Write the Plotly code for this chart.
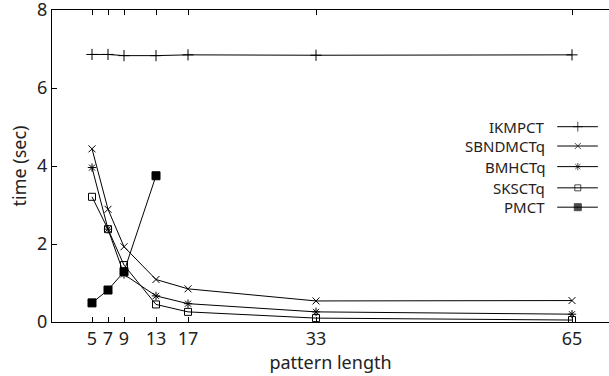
import plotly.graph_objects as go

pattern_length = [5, 7, 9, 13, 17, 33, 65]
ikmpct   = [6.86, 6.86, 6.83, 6.83, 6.85, 6.84, 6.85]
sbndmctq = [4.44, 2.89, 1.93, 1.09, 0.85, 0.54, 0.55]
bmhctq   = [3.96, 2.38, 1.22, 0.67, 0.47, 0.26, 0.20]
sksctq   = [3.21, 2.38, 1.46, 0.45, 0.26, 0.10, 0.05]
pmct_x   = [5, 7, 9, 13]
pmct     = [0.49, 0.82, 1.29, 3.75]

series = [
    ("IKMPCT", pattern_length, ikmpct, "cross-thin-open", 8, 7),
    ("SBNDMCTq", pattern_length, sbndmctq, "x-thin-open", 7, 6),
    ("BMHCTq", pattern_length, bmhctq, "asterisk-open", 7, 6),
    ("SKSCTq", pattern_length, sksctq, "square-open", 7, 6),
    ("PMCT", pmct_x, pmct, "square", 8, 7),
]

FONT = "Noto Sans"
fig = go.Figure()
for name, xs, ys, sym, sz, lsz in series:
    fig.add_trace(go.Scatter(
        x=xs, y=ys, mode="lines+markers", name=name, showlegend=False,
        line=dict(color="black", width=1),
        marker=dict(symbol=sym, size=sz, color="black",
                    line=dict(color="black", width=1)),
    ))

# custom legend: text on the left, sample on the right
leg_y = [0.626, 0.564, 0.498, 0.430, 0.368]
for (name, xs, ys, sym, sz, lsz), ly in zip(series, leg_y):
    fig.add_trace(go.Scatter(
        x=[0.907, 0.944, 0.98], y=[ly, ly, ly], xaxis="x2", yaxis="y2",
        mode="lines+markers", showlegend=False, hoverinfo="skip",
        line=dict(color="black", width=1),
        marker=dict(symbol=sym, size=[0, lsz, 0], color="black",
                    line=dict(color="black", width=1)),
    ))
    fig.add_annotation(x=0.888, y=ly, xref="paper", yref="paper", text=name,
                       showarrow=False, xanchor="right", yanchor="middle",
                       font=dict(family=FONT, size=15, color="#222"))

fig.update_layout(
    width=609, height=376,
    margin=dict(l=52, r=0, t=10, b=54),
    paper_bgcolor="white", plot_bgcolor="white",
    font=dict(family=FONT, size=18, color="#222"),
    xaxis=dict(range=[0, 69.625], tickvals=pattern_length, automargin=False,
               ticks="inside", ticklen=5, tickcolor="black",
               showline=True, linecolor="black", linewidth=1, mirror="ticks",
               showgrid=False, zeroline=False, ticklabeloverflow="allow",
               title=dict(text="pattern length", font=dict(size=18), standoff=1)),
    yaxis=dict(range=[0, 8], tickvals=[0, 2, 4, 6, 8], automargin=False,
               ticks="inside", ticklen=5, tickcolor="black",
               showline=True, linecolor="black", linewidth=1,
               showgrid=False, zeroline=False, ticklabeloverflow="allow",
               title=dict(text="time (sec)", font=dict(size=18), standoff=5)),
    xaxis2=dict(range=[0, 1], overlaying="x", visible=False, fixedrange=True),
    yaxis2=dict(range=[0, 1], overlaying="y", visible=False, fixedrange=True),
)

fig.write_html("out.html", config={"displayModeBar": False},
               post_script="document.body.style.margin='0';")
